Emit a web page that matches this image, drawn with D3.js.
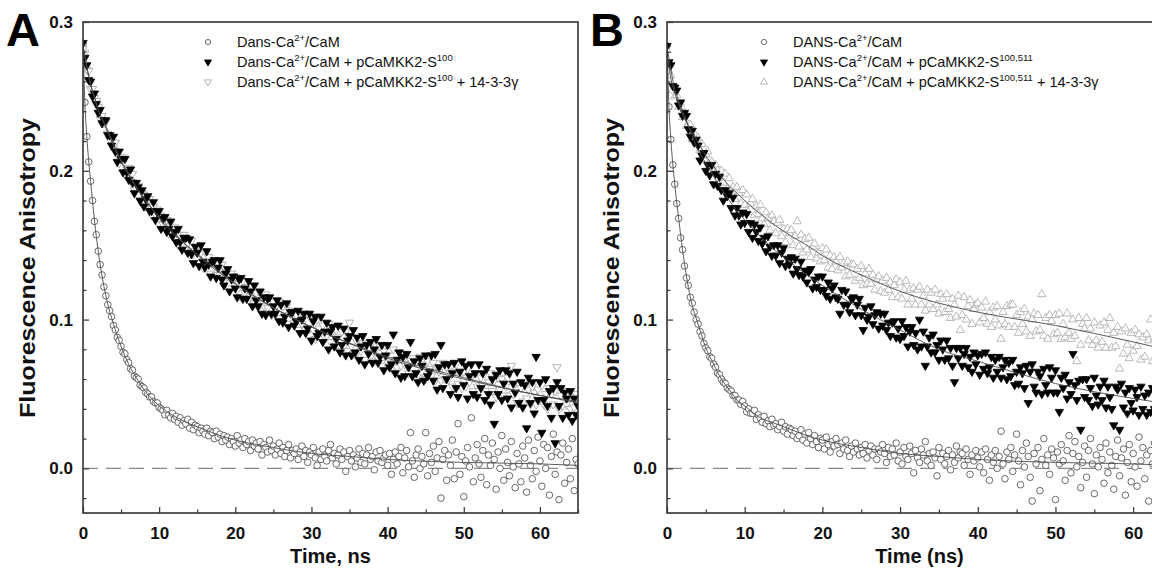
<!DOCTYPE html>
<html>
<head>
<meta charset="UTF-8">
<title>Dansyl-CaM anisotropy decay</title>
<style>
  body { margin: 0; background: #fff; overflow: hidden; }
  svg { display: block; font-family: "Liberation Sans", Arial, Helvetica, sans-serif; }
  .axis text { font-weight: bold; font-size: 17px; fill: #111; }
  .axis line { stroke: #333; stroke-width: 1.2; }
  .axis path { display: none; }
  .legend text { font-size: 14.5px; fill: #111; }
</style>
</head>
<body>
<svg id="chart" width="1152" height="570"></svg>

<script src="https://d3js.org/d3.v7.min.js"></script>
<script>
// sampling grid of the decays, ns
const times = d3.range(261).map(i => i * 0.25);
const xTicks = [0, 10, 20, 30, 40, 50, 60];
const xMinor = [5, 15, 25, 35, 45, 55, 65];
const yTicks = [0.0, 0.1, 0.2, 0.3];
const yMinor = [-0.02, 0.02, 0.04, 0.06, 0.08, 0.12, 0.14, 0.16, 0.18, 0.22, 0.24, 0.26, 0.28];

// anisotropy x 1000, every 0.25 ns (8 values = 2 ns per row)
const aFree = [
285,246,223,206,193,180,166,157,
146,137,130,122,116,110,106,102,
96,93,88,86,82,78,77,73,
71,67,66,62,61,60,56,55,
54,51,50,48,48,45,44,44,
41,40,39,36,39,36,34,37,
33,35,31,34,29,32,30,33,
27,31,26,29,28,24,27,25,
23,27,22,25,24,20,25,21,
23,18,22,19,21,16,20,18,
15,22,17,19,14,20,16,18,
12,19,15,17,13,18,9,16,
14,11,19,12,15,9,13,17,
10,14,8,12,16,7,12,10,
13,6,11,15,8,12,4,11,
9,14,7,2,11,6,13,8,
5,12,16,7,10,3,9,13,
6,11,-2,8,12,5,9,1,
7,13,4,10,3,9,14,6,
8,-1,11,5,12,4,7,9,
2,10,-4,6,11,3,8,14,
-3,7,12,1,24,5,-6,9,
13,0,8,3,24,-5,10,4,
15,-2,7,18,-20,6,12,-8,
9,2,19,-7,11,30,-4,8,
-19,5,14,1,34,-9,7,16,
3,-6,12,20,-11,9,2,17,
6,-14,11,0,22,-8,13,4,
-5,18,1,-13,10,3,-9,15,
7,-16,19,2,-7,12,-2,21,
5,-12,16,0,14,-18,8,23,
-4,11,-21,9,17,-10,4,13,
-7,20,-15,6,3];

const aPep = [
286,276,271,261,260,250,252,245,
239,241,232,234,234,224,224,217,
223,213,206,213,208,199,208,199,
194,201,192,185,192,189,180,187,
176,181,183,173,173,179,167,172,
173,161,168,169,159,161,166,156,
159,152,161,152,147,155,155,145,
154,144,138,149,145,136,150,139,
135,146,137,129,139,140,128,135,
140,127,123,131,134,119,127,129,
121,115,127,128,114,121,114,126,
119,109,123,113,109,119,104,115,
103,114,115,104,109,104,113,99,
110,98,102,111,95,105,105,96,
99,106,91,100,104,91,94,104,
86,99,102,89,91,102,85,92,
98,80,92,95,82,87,96,78,
83,94,76,86,89,76,93,78,
88,73,82,89,70,83,77,85,
71,80,87,71,75,83,66,76,
83,68,70,90,64,73,78,61,
75,62,77,68,85,62,72,64,
58,74,69,59,76,62,65,76,
59,77,53,68,83,54,70,60,
70,50,64,71,54,48,65,72,
56,69,47,62,70,50,64,48,
70,54,64,46,67,50,43,60,
30,63,50,66,46,57,66,47,
64,41,57,51,65,44,58,41,
56,27,61,44,58,37,75,46,
58,24,46,60,42,52,34,54,
17,58,42,54,34,51,47,36,
52,32,47,36,42];

const aPep1433 = [
282,279,268,267,255,255,249,247,
243,235,237,232,233,225,221,222,
215,219,211,205,209,209,198,201,
202,193,198,187,188,190,180,185,
184,176,179,181,170,176,171,174,
164,170,164,165,167,158,165,158,
162,158,150,157,151,157,147,151,
144,153,144,146,149,138,145,135,
146,138,142,131,138,140,130,134,
130,137,125,132,129,121,131,127,
129,120,124,115,126,118,122,113,
116,122,111,118,108,118,113,109,
117,108,112,103,112,108,101,112,
101,109,103,109,97,104,106,98,
103,93,104,97,102,93,104,94,
100,93,87,100,94,87,96,88,
89,97,85,92,82,93,88,79,
92,82,92,79,98,82,77,87,
78,87,79,84,73,84,81,75,
85,72,80,74,82,69,79,75,
71,79,67,80,73,68,78,69,
77,70,74,64,73,74,64,71,
63,75,65,70,60,72,67,62,
71,59,68,65,59,71,60,68,
60,68,55,65,70,57,63,54,
65,55,67,58,62,52,64,55,
52,61,56,64,52,58,64,52,
59,48,61,53,60,49,55,61,
49,69,50,57,44,57,54,45,
57,47,53,43,55,51,43,53,
46,56,43,50,40,54,50,43,
52,68,40,49,42,52,43,49,
40,48,41,50,44];

const bFree = [
284,243,221,204,191,178,168,155,
147,136,128,123,115,111,105,100,
97,92,89,84,81,79,75,74,
70,68,64,63,60,58,57,54,
53,52,49,49,46,46,43,45,
42,38,40,37,37,39,33,36,
34,31,35,30,32,28,33,29,
30,26,28,31,25,28,23,27,
26,22,25,20,22,26,19,23,
17,24,20,16,22,18,14,20,
19,13,21,16,11,18,15,20,
16,10,17,13,19,12,8,15,
11,17,13,9,14,10,16,7,
12,15,9,13,6,13,11,16,
10,4,14,8,13,9,17,5,
11,3,14,8,6,15,10,-3,
12,7,4,13,9,18,5,10,
2,11,7,-5,14,6,10,3,
8,12,-1,9,4,15,7,11,
10,2,13,6,-4,9,5,12,
7,1,11,-3,13,6,-8,9,
4,12,0,8,25,3,-7,11,
6,14,-2,9,23,5,-11,12,
1,17,8,-6,-22,10,3,14,
-15,6,20,2,9,-4,13,7,
-21,11,3,16,5,-8,12,22,
-3,10,18,1,8,-13,4,15,
-6,12,20,3,-17,9,1,14,
6,-10,17,-3,11,2,-14,8,
19,-5,7,13,-18,4,16,-9,
10,1,-12,21,5,14,-7,9,
-22,12,3,17,-4,8,-13,15,
2,-10,11,19,6];

const bPep = [
284,273,271,257,256,254,244,246,
237,239,237,228,223,227,219,221,
217,207,210,212,200,204,197,204,
191,198,190,196,187,180,187,183,
185,175,182,170,175,170,164,172,
165,171,159,165,155,164,159,153,
162,151,155,146,156,149,143,150,
143,150,138,145,148,136,141,137,
142,131,141,134,130,139,129,133,
125,132,134,121,127,122,129,120,
129,120,116,125,114,121,123,115,
114,104,120,110,119,110,105,114,
115,103,110,114,103,93,108,100,
102,109,97,103,105,94,104,96,
104,93,98,89,98,99,88,94,
87,99,89,95,82,92,95,83,
91,80,100,82,92,69,82,88,
78,90,78,83,73,86,80,73,
86,74,81,69,58,81,74,81,
69,77,81,68,75,65,78,70,
76,63,77,67,78,64,68,75,
61,73,65,75,61,68,73,60,
71,62,73,56,65,57,68,64,
54,69,44,65,70,55,51,65,
62,50,67,56,51,68,61,51,
66,51,38,61,54,63,47,58,
50,77,56,46,59,26,60,48,
60,46,54,42,61,49,43,55,
46,59,41,55,48,40,29,55,
53,26,57,41,51,37,54,44,
39,53,48,36,55,40,49,36,
51,38,54,40,35,49,37,51,
38,50,35,45,38];

const bPep1433 = [
281,267,264,254,250,251,243,245,
236,239,230,231,231,221,225,219,
222,214,218,208,211,213,203,206,
199,204,200,192,200,192,198,188,
195,186,189,181,189,185,178,187,
177,184,172,178,181,170,176,171,
177,168,164,172,168,160,170,166,
158,165,167,156,161,152,161,158,
160,150,156,166,149,157,145,154,
147,155,142,149,151,141,145,139,
148,140,147,135,143,134,142,139,
133,142,135,138,129,139,130,137,
137,126,134,128,136,123,131,124,
134,124,130,120,127,129,119,126,
118,128,120,125,115,123,127,115,
125,114,120,126,110,120,114,121,
110,120,122,110,116,106,120,110,
118,107,120,110,104,117,114,105,
117,107,101,114,110,102,116,93,
103,115,100,109,113,97,107,110,
111,98,108,101,112,97,105,95,
108,100,109,96,87,105,97,109,
95,110,110,95,103,91,105,97,
107,92,102,89,100,104,92,103,
93,117,89,101,87,103,99,90,
103,91,104,87,97,88,104,91,
87,100,89,72,101,83,97,94,
101,86,94,83,98,86,81,96,
85,98,81,93,101,81,91,82,
95,67,92,77,94,83,74,91,
79,93,82,90,73,88,75,90,
86,100,72,87,76,89,72,83,
74,87,76,87,77];

// fitted decay curves (x 1000)
const fitTimes = [0,0.25,0.5,1,1.5,2,3,4,5,6,7,8,9,10,12,14,16,18,20,25,30,35,40,50,60,65];
const aFreeFit = [285,245,223,193,167,146,116,97,82,70,61,53,47,42,35,30,26,22,19,14,10,8,6,4,3,2];
const aPepFit = [283,277,270,258,250,241,230,218,207,198,189,182,175,169,158,148,140,132,124,108,95,84,74,60,49,44];
const aPep1433Fit = [284,277,270,258,249,241,229,217,206,197,189,181,175,168,157,148,139,131,124,108,95,84,75,61,49,45];
const bFreeFit = [284,243,221,191,168,147,115,97,81,70,60,53,46,42,34,30,26,22,19,14,10,8,6,4,3,2];
const bPepFit = [282,276,268,255,247,240,227,214,205,196,188,180,173,167,156,146,138,130,123,107,93,80,72,57,47,43];
const bPep1433Fit = [280,270,262,252,245,238,228,219,210,203,196,190,185,180,171,163,156,150,143,130,119,111,105,96,85,79];

const aLabels = ["Dans-Ca^{2+}/CaM", "Dans-Ca^{2+}/CaM + pCaMKK2-S^{100}", "Dans-Ca^{2+}/CaM + pCaMKK2-S^{100} + 14-3-3\u03b3"];
const bLabels = ["DANS-Ca^{2+}/CaM", "DANS-Ca^{2+}/CaM + pCaMKK2-S^{100,511}", "DANS-Ca^{2+}/CaM + pCaMKK2-S^{100,511} + 14-3-3\u03b3"];

const styles = {
  circle: { fill: "#fff", stroke: "#444" },
  down:   { fill: "#000", stroke: "#000" },
  downOpen: { fill: "#fff", stroke: "#a0a0a0" },
  upOpen: { fill: "#fff", stroke: "#a8a8a8" }
};

const panels = [
  { letter: "A", left: 83, width: 495, titleX: 27, xTitle: "Time, ns", legendX: 208, labels: aLabels,
    series: [
      { vals: aFree, fit: aFreeFit, marker: "circle", order: 0 },
      { vals: aPep, fit: aPepFit, marker: "down", order: 2 },
      { vals: aPep1433, fit: aPep1433Fit, marker: "downOpen", order: 1 }
    ] },
  { letter: "B", left: 667, width: 505, titleX: 611, xTitle: "Time (ns)", legendX: 764, labels: bLabels,
    series: [
      { vals: bFree, fit: bFreeFit, marker: "circle", order: 0 },
      { vals: bPep, fit: bPepFit, marker: "down", order: 2 },
      { vals: bPep1433, fit: bPep1433Fit, marker: "upOpen", order: 1 }
    ] }
];

const svg = d3.select("#chart");
const plotTop = 22, plotBottom = 513;
const y = d3.scaleLinear().domain([-0.03, 0.3]).range([plotBottom, plotTop]);

function addMarker(sel, kind, small) {
  if (kind === "circle") {
    sel.append("circle").attr("r", small ? 2.6 : 3.3)
      .attr("fill", styles.circle.fill).attr("stroke", styles.circle.stroke).attr("stroke-width", 0.8);
    return;
  }
  const st = styles[kind];
  sel.append("path")
    .attr("d", d3.symbol(d3.symbolTriangle, small ? 22 : 30)())
    .attr("transform", kind === "upOpen" ? null : "rotate(180)")
    .attr("fill", st.fill).attr("stroke", st.stroke).attr("stroke-width", 0.8);
}

function richText(textSel, str) {
  let shifted = false;
  str.split(/(\^\{[^}]*\})/).filter(s => s).forEach(s => {
    if (s.startsWith("^{")) {
      textSel.append("tspan").attr("font-size", "9.5px").attr("dy", -6).text(s.slice(2, -1));
      shifted = true;
    } else {
      textSel.append("tspan").attr("dy", shifted ? 6 : 0).text(s);
      shifted = false;
    }
  });
}

panels.forEach(p => {
  const x = d3.scaleLinear().domain([0, 65]).range([p.left, p.left + p.width]);
  const g = svg.append("g");
  const clipId = "clip" + p.letter;
  g.append("clipPath").attr("id", clipId).append("rect")
    .attr("x", p.left).attr("y", plotTop).attr("width", p.width).attr("height", plotBottom - plotTop);

  // zero reference
  g.append("line")
    .attr("x1", x(0)).attr("x2", x(65)).attr("y1", y(0)).attr("y2", y(0))
    .attr("stroke", "#8a8a8a").attr("stroke-width", 1.2).attr("stroke-dasharray", "15,8");

  const plot = g.append("g").attr("clip-path", `url(#${clipId})`);
  p.series.slice().sort((a, b) => a.order - b.order).forEach(s => {
    const pts = s.vals.map((v, i) => [times[i], v / 1000]);
    plot.append("g").selectAll("g").data(pts).join("g")
      .attr("transform", d => `translate(${x(d[0])},${y(d[1])})`)
      .each(function() { addMarker(d3.select(this), s.marker, false); });
  });

  const fitLine = d3.line().x(d => x(d[0])).y(d => y(d[1])).curve(d3.curveMonotoneX);
  p.series.forEach(s => {
    plot.append("path")
      .datum(s.fit.map((v, i) => [fitTimes[i], v / 1000]))
      .attr("d", fitLine).attr("fill", "none")
      .attr("stroke", "#4a4a4a").attr("stroke-width", 0.9);
  });

  // frame
  g.append("rect").attr("x", p.left).attr("y", plotTop).attr("width", p.width).attr("height", plotBottom - plotTop)
    .attr("fill", "none").attr("stroke", "#333").attr("stroke-width", 1.6);

  // axes, ticks pointing inward
  g.append("g").attr("class", "axis").attr("transform", `translate(0,${plotBottom})`)
    .call(d3.axisBottom(x).tickValues(xTicks).tickSize(-6).tickPadding(14).tickFormat(d3.format("d")));
  g.append("g").attr("class", "axis").attr("transform", `translate(0,${plotBottom})`)
    .call(d3.axisBottom(x).tickValues(xMinor).tickSize(-3.5).tickFormat(""));
  g.append("g").attr("class", "axis").attr("transform", `translate(${p.left},0)`)
    .call(d3.axisLeft(y).tickValues(yTicks).tickSize(-6).tickPadding(10).tickFormat(d3.format(".1f")));
  g.append("g").attr("class", "axis").attr("transform", `translate(${p.left},0)`)
    .call(d3.axisLeft(y).tickValues(yMinor).tickSize(-3.5).tickFormat(""));

  // titles
  g.append("text").attr("x", p.left + p.width / 2).attr("y", 563)
    .attr("text-anchor", "middle").attr("font-weight", "bold").attr("font-size", "20px").attr("fill", "#111")
    .text(p.xTitle);
  g.append("text").attr("transform", `translate(${p.titleX},268) rotate(-90)`)
    .attr("text-anchor", "middle").attr("dominant-baseline", "central")
    .attr("font-weight", "bold").attr("font-size", "22px").attr("fill", "#111")
    .attr("textLength", 300).attr("lengthAdjust", "spacingAndGlyphs")
    .text("Fluorescence Anisotropy");
  g.append("text").attr("x", p.left - 77).attr("y", 46)
    .attr("font-weight", "bold").attr("font-size", "47px").attr("fill", "#000")
    .text(p.letter);

  // legend
  const lg = g.append("g").attr("class", "legend");
  p.series.forEach((s, i) => {
    const row = lg.append("g").attr("transform", `translate(${p.legendX},${42 + 20 * i})`);
    addMarker(row, s.marker, true);
    richText(row.append("text").attr("x", 29).attr("y", 5), p.labels[i]);
  });
});
</script>
</body>
</html>
